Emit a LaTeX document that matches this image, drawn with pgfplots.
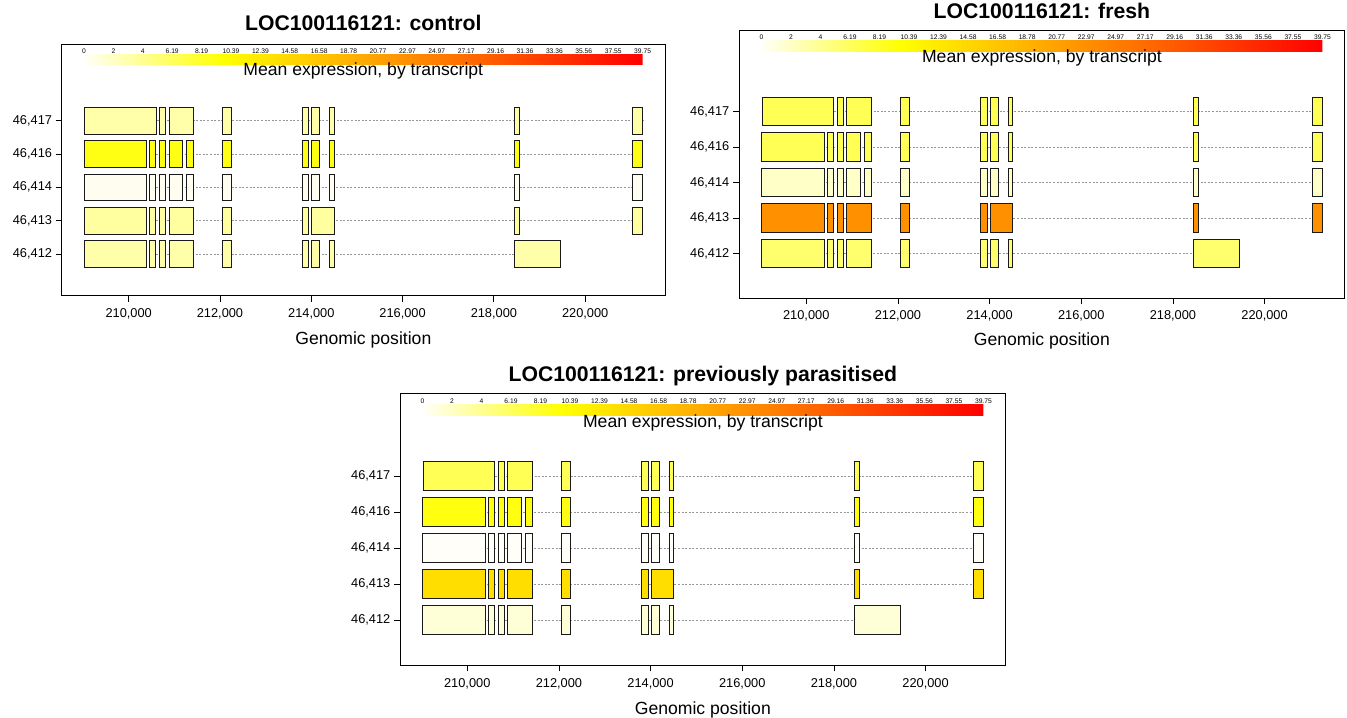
\documentclass[border=0pt]{standalone}
\usepackage{pgfplots}
\pgfplotsset{compat=1.18}
\usepackage{fontspec}
\setmainfont{Liberation Sans}

\definecolor{exedge}{RGB}{25,25,25}
\definecolor{introncol}{RGB}{150,150,150}
% control
\definecolor{cA}{RGB}{255,255,170}
\definecolor{cB}{RGB}{255,255,20}
\definecolor{cC}{RGB}{255,253,240}
\definecolor{cD}{RGB}{255,255,160}
\definecolor{cE}{RGB}{255,255,170}
% fresh
\definecolor{fA}{RGB}{255,255,85}
\definecolor{fB}{RGB}{255,255,85}
\definecolor{fC}{RGB}{255,255,200}
\definecolor{fD}{RGB}{255,145,0}
\definecolor{fE}{RGB}{255,255,110}
% previously parasitised
\definecolor{pA}{RGB}{255,255,85}
\definecolor{pB}{RGB}{255,255,15}
\definecolor{pC}{RGB}{255,254,248}
\definecolor{pD}{RGB}{255,222,0}
\definecolor{pE}{RGB}{255,255,215}

\newcommand{\ex}[5]{\addplot[fill=#5, draw=exedge, line width=0.9bp, forget plot] coordinates {(#1,#3) (#2,#3) (#2,#4) (#1,#4)} -- cycle;}
\newcommand{\intron}[3]{\addplot[introncol, line width=0.7bp, dash pattern=on 2bp off 1.6bp, forget plot] coordinates {(#1,#3) (#2,#3)};}

% transcript 46,417 (row 5)
\newcommand{\tA}[1]{%
\intron{209035}{221259}{5}
\ex{209035}{210601}{4.6}{5.4}{#1}
\ex{210680}{210811}{4.6}{5.4}{#1}
\ex{210886}{211425}{4.6}{5.4}{#1}
\ex{212048}{212246}{4.6}{5.4}{#1}
\ex{213803}{213947}{4.6}{5.4}{#1}
\ex{214013}{214189}{4.6}{5.4}{#1}
\ex{214408}{214504}{4.6}{5.4}{#1}
\ex{218458}{218553}{4.6}{5.4}{#1}
\ex{221039}{221259}{4.6}{5.4}{#1}}
% transcript 46,416 (row 4)
\newcommand{\tB}[1]{%
\intron{209022}{221259}{4}
\ex{209022}{210388}{3.6}{4.4}{#1}
\ex{210461}{210592}{3.6}{4.4}{#1}
\ex{210680}{210811}{3.6}{4.4}{#1}
\ex{210886}{211178}{3.6}{4.4}{#1}
\ex{211265}{211425}{3.6}{4.4}{#1}
\ex{212048}{212246}{3.6}{4.4}{#1}
\ex{213803}{213947}{3.6}{4.4}{#1}
\ex{214013}{214189}{3.6}{4.4}{#1}
\ex{214408}{214504}{3.6}{4.4}{#1}
\ex{218458}{218553}{3.6}{4.4}{#1}
\ex{221039}{221259}{3.6}{4.4}{#1}}
% transcript 46,414 (row 3)
\newcommand{\tC}[1]{%
\intron{209022}{221259}{3}
\ex{209022}{210388}{2.6}{3.4}{#1}
\ex{210461}{210592}{2.6}{3.4}{#1}
\ex{210680}{210811}{2.6}{3.4}{#1}
\ex{210886}{211178}{2.6}{3.4}{#1}
\ex{211265}{211425}{2.6}{3.4}{#1}
\ex{212048}{212246}{2.6}{3.4}{#1}
\ex{213803}{213947}{2.6}{3.4}{#1}
\ex{214013}{214189}{2.6}{3.4}{#1}
\ex{214408}{214504}{2.6}{3.4}{#1}
\ex{218458}{218553}{2.6}{3.4}{#1}
\ex{221039}{221259}{2.6}{3.4}{#1}}
% transcript 46,413 (row 2)
\newcommand{\tD}[1]{%
\intron{209022}{221259}{2}
\ex{209022}{210388}{1.6}{2.4}{#1}
\ex{210461}{210592}{1.6}{2.4}{#1}
\ex{210680}{210811}{1.6}{2.4}{#1}
\ex{210886}{211425}{1.6}{2.4}{#1}
\ex{212048}{212246}{1.6}{2.4}{#1}
\ex{213803}{213947}{1.6}{2.4}{#1}
\ex{214013}{214504}{1.6}{2.4}{#1}
\ex{218458}{218553}{1.6}{2.4}{#1}
\ex{221039}{221259}{1.6}{2.4}{#1}}
% transcript 46,412 (row 1)
\newcommand{\tE}[1]{%
\intron{209022}{219452}{1}
\ex{209022}{210388}{0.6}{1.4}{#1}
\ex{210461}{210592}{0.6}{1.4}{#1}
\ex{210680}{210811}{0.6}{1.4}{#1}
\ex{210886}{211425}{0.6}{1.4}{#1}
\ex{212048}{212246}{0.6}{1.4}{#1}
\ex{213803}{213947}{0.6}{1.4}{#1}
\ex{214013}{214189}{0.6}{1.4}{#1}
\ex{214408}{214504}{0.6}{1.4}{#1}
\ex{218458}{219452}{0.6}{1.4}{#1}}

\newcommand{\titlefont}{\fontsize{21.2bp}{24bp}\selectfont\bfseries}
\newcommand{\labfont}{\fontsize{17.6bp}{20bp}\selectfont}
\newcommand{\tickfont}{\fontsize{12.8bp}{15bp}\selectfont}
\newcommand{\cbfont}{\fontsize{6.7bp}{8bp}\selectfont}

\pgfplotsset{
  genestyle/.style={
    scale only axis, clip=false,
    xmin=208533, xmax=221748, ymin=-0.25, ymax=7.29,
    axis line style={line width=0.9bp, black},
    xtick pos=bottom, ytick pos=left, tick align=outside,
    major tick length=6bp,
    tick style={black, line width=0.8bp},
    xtick={210000,212000,214000,216000,218000,220000},
    xticklabels={{210,000},{212,000},{214,000},{216,000},{218,000},{220,000}},
    scaled x ticks=false,
    ytick={1,2,3,4,5},
    yticklabels={{46,412},{46,413},{46,414},{46,416},{46,417}},
    ticklabel style={font=\tickfont},
    xticklabel style={inner sep=0pt, yshift=-6.6bp},
    yticklabel style={inner sep=0pt, xshift=-3.5bp},
    colormap={heat}{rgb255(0)=(255,255,248) rgb255(1)=(255,255,0) rgb255(4)=(255,0,0)},
    point meta min=0, point meta max=39.75,
    colorbar horizontal,
  },
  cbar/.style n args={5}{
    colorbar style={
      at={(parent axis.south west)}, anchor=south west,
      xshift=#1, yshift=#2,
      width=#3, height=#4, scale only axis,
      xticklabel pos=upper,
      xtick={0,2.0921,4.1842,6.2763,8.3684,10.4605,12.5526,14.6447,16.7368,18.8289,20.9211,23.0132,25.1053,27.1974,29.2895,31.3816,33.4737,35.5658,37.6579,39.75},
      xticklabels={0,2,4,6.19,8.19,10.39,12.39,14.58,16.58,18.78,20.77,22.97,24.97,27.17,29.16,31.36,33.36,35.56,37.55,39.75},
      major tick length=0pt,
      axis line style={draw=none},
      xticklabel style={font=\cbfont, inner sep=0.6bp},
      ytick=\empty,
      xlabel={Mean expression, by transcript},
      xlabel style={font=\labfont, at={(axis description cs:0.5,0)}, anchor=base, yshift=#5, inner sep=0pt},
    }
  },
}

\begin{document}
\begin{tikzpicture}
\path[use as bounding box] (0,0) rectangle (1347bp,718bp);

% ---------------- control ----------------
\begin{axis}[genestyle, at={(61.7bp,422.3bp)}, anchor=south west,
  width=603.3bp, height=251.4bp, cbar={22.3bp}{239.8bp}{558.6bp}{10bp}{-10.7bp}]
\tA{cA}
\tB{cB}
\tC{cC}
\tD{cD}
\tE{cE}
\node[font=\titlefont, anchor=base, yshift=13.6bp] at (rel axis cs:0.5,1) {LOC100116121: control};
\node[font=\labfont, anchor=base, yshift=-49.3bp] at (rel axis cs:0.5,0) {Genomic position};
\end{axis}

% ---------------- fresh ----------------
\begin{axis}[genestyle, at={(739bp,419.9bp)}, anchor=south west,
  width=605.7bp, height=268.1bp, cbar={22.4bp}{255.2bp}{561bp}{10.7bp}{-11.4bp}]
\tA{fA}
\tB{fB}
\tC{fC}
\tD{fD}
\tE{fE}
\node[font=\titlefont, anchor=base, yshift=11.7bp] at (rel axis cs:0.5,1) {LOC100116121: fresh};
\node[font=\labfont, anchor=base, yshift=-47bp] at (rel axis cs:0.5,0) {Genomic position};
\end{axis}

% ---------------- previously parasitised ----------------
\begin{axis}[genestyle, at={(400bp,52.7bp)}, anchor=south west,
  width=605.7bp, height=271.4bp, cbar={22.4bp}{258.3bp}{561bp}{10.8bp}{-11.5bp}]
\tA{pA}
\tB{pB}
\tC{pC}
\tD{pD}
\tE{pE}
\node[font=\titlefont, anchor=base, yshift=12.2bp] at (rel axis cs:0.5,1) {LOC100116121: previously parasitised};
\node[font=\labfont, anchor=base, yshift=-49.3bp] at (rel axis cs:0.5,0) {Genomic position};
\end{axis}
\end{tikzpicture}
\end{document}
